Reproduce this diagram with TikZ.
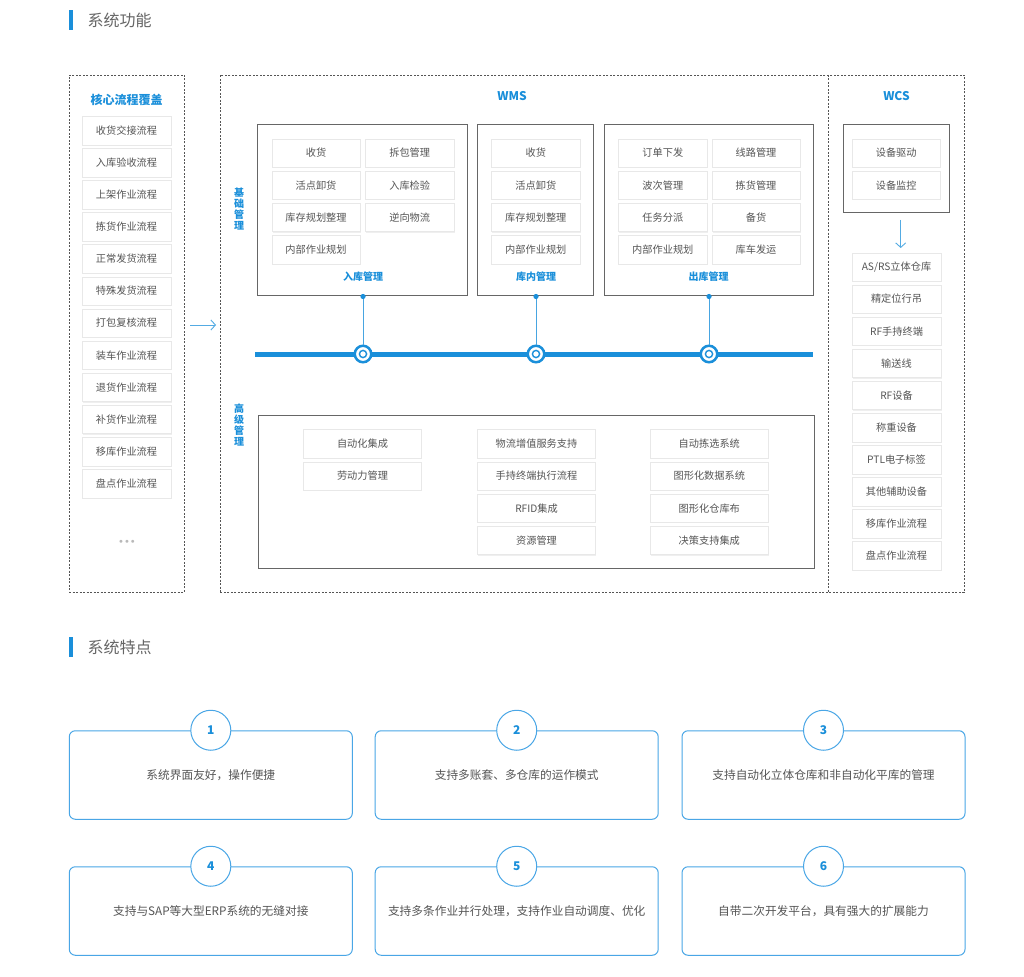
\documentclass[tikz,border=0pt]{standalone}
\usepackage{fontspec}
\setmainfont{Noto Sans CJK SC}
\newfontfamily\dv{DejaVu Sans}
\usetikzlibrary{arrows.meta,shadows}
\definecolor{blu}{HTML}{1A8FDA}
\definecolor{txt}{HTML}{555555}
\definecolor{hdr}{HTML}{666666}
\definecolor{itemb}{HTML}{E8E8E8}
\definecolor{dashc}{HTML}{555555}
\definecolor{grpc}{HTML}{666666}
\definecolor{cardb}{HTML}{49A6E6}
\begin{document}
\begin{tikzpicture}[x=1pt,y=-1pt,
  item/.style={draw=itemb, fill=white, minimum width=88.5, minimum height=28.5, inner sep=0,
    font=\fontsize{10.2}{12}\selectfont, text=txt,
    drop shadow={opacity=0.12, shadow xshift=0.8pt, shadow yshift=-1pt}},
  witem/.style={item, minimum width=118},
  grp/.style={draw=grpc, line width=0.9, fill=white, inner sep=0},
  dbox/.style={draw=dashc, dash pattern=on 2pt off 1.5pt, line width=0.7, inner sep=0},
  blab/.style={text=blu, font=\bfseries\fontsize{10}{12}\selectfont},
  vlab/.style={text=blu, font=\bfseries\fontsize{10}{11.3}\selectfont, align=center, inner sep=0},
  ttl/.style={text=blu, font=\bfseries\fontsize{12}{14}\selectfont},
  hdrtxt/.style={text=hdr, font=\fontsize{16}{18}\selectfont, anchor=west, inner sep=0},
  card/.style={draw=cardb, line width=1, rounded corners=6, minimum width=283, minimum height=88.5,
    font=\fontsize{11.7}{14}\selectfont, text=txt},
  num/.style={circle, draw=cardb, fill=white, line width=1, minimum size=40, inner sep=0,
    font=\bfseries\fontsize{12}{14}\selectfont, text=blu},
  ring/.style={circle, draw=blu, line width=2.5, fill=white, minimum size=16.5, inner sep=0},
  arr/.style={draw=blu!75, line width=0.9, -{Straight Barb[length=4.5pt,width=10pt]}}
]
\useasboundingbox[fill=white] (0,0) rectangle (1024,976);

% ---------- header 1 ----------
\fill[blu] (69,10) rectangle (72.7,30);
\node[hdrtxt] (h1) at (87.5,20) {系统功能};

% ---------- left column ----------
\node[dbox, minimum width=115, minimum height=517] (left) at (126.5,333.5) {};
\node[ttl] (lt) at (126.5,100) {核心流程覆盖};
\foreach \t [count=\i] in {收货交接流程,入库验收流程,上架作业流程,拣货作业流程,正常发货流程,特殊发货流程,打包复核流程,装车作业流程,退货作业流程,补货作业流程,移库作业流程,盘点作业流程}
  \node[item] (L\i) at (126.5,{130.5+32.1*(\i-1)}) {\t};
\node[text=gray!55, font=\dv\fontsize{10}{12}\selectfont, inner sep=0] (dots) at (127,543) {•••};

% arrow to main
\coordinate (ar1) at (190,325);
\coordinate (ar2) at (216,325);
\draw[arr] (ar1) -- (ar2);

% ---------- main dashed box ----------
\node[dbox, minimum width=744, minimum height=517] (main) at (592.3,333.5) {};
\coordinate (dv1) at (828.5,75);
\coordinate (dv2) at (828.5,592);
\draw[draw=dashc, dash pattern=on 2pt off 1.5pt, line width=0.7] (dv1) -- (dv2);
\node[ttl] (wms) at (512,96) {WMS};
\node[ttl] (wcs) at (896.5,96) {WCS};

\node[vlab] (jc) at (239,209) {基\\础\\管\\理};
\node[vlab] (gj) at (239,425) {高\\级\\管\\理};

% group boxes
\node[grp, minimum width=209.3, minimum height=170.7] (inb) at (362.3,209.7) {};
\node[grp, minimum width=116, minimum height=170.7] (kn) at (535.7,209.7) {};
\node[grp, minimum width=208.6, minimum height=170.7] (outb) at (709,209.7) {};
\node[grp, minimum width=556, minimum height=153] (adv) at (536,491.5) {};
\node[grp, minimum width=105.3, minimum height=88.4] (wcsb) at (896.3,168.5) {};

% 入库管理
\node[item] (i1) at (316,153) {收货};
\node[item] (i2) at (409.7,153) {拆包管理};
\node[item] (i3) at (316,185.2) {活点卸货};
\node[item] (i4) at (409.7,185.2) {入库检验};
\node[item] (i5) at (316,217.4) {库存规划整理};
\node[item] (i6) at (409.7,217.4) {逆向物流};
\node[item] (i7) at (316,249.6) {内部作业规划};
\node[blab] (inl) at (363,277) {入库管理};

% 库内管理
\node[item] (k1) at (535.8,153) {收货};
\node[item] (k2) at (535.8,185.2) {活点卸货};
\node[item] (k3) at (535.8,217.4) {库存规划整理};
\node[item] (k4) at (535.8,249.6) {内部作业规划};
\node[blab] (knl) at (536,277) {库内管理};

% 出库管理
\node[item] (o1) at (662.8,153) {订单下发};
\node[item] (o2) at (756,153) {线路管理};
\node[item] (o3) at (662.8,185.2) {波次管理};
\node[item] (o4) at (756,185.2) {拣货管理};
\node[item] (o5) at (662.8,217.4) {任务分派};
\node[item] (o6) at (756,217.4) {备货};
\node[item] (o7) at (662.8,249.6) {内部作业规划};
\node[item] (o8) at (756,249.6) {库车发运};
\node[blab] (outl) at (708.5,277) {出库管理};

% timeline
\coordinate (tl1) at (255,354);
\coordinate (tl2) at (813,354);
\draw[blu, line width=5] (tl1) -- (tl2);
\foreach \n/\x/\b in {c1/363/inb, c2/536/kn, c3/709/outb}{
  \node[ring] (\n) at (\x,354) {};
  \draw[blu, line width=1.4] (\n.center) circle (3.6);
  \draw[blu!80, line width=0.8] (\n.north |- \b.south) -- (\n.north);
  \fill[blu] (\n.north |- \b.south) ++(0,1) circle (2.6);
}

% 高级管理
\node[witem] (a1) at (362.5,443.8) {自动化集成};
\node[witem] (a2) at (362.5,476) {劳动力管理};
\node[witem] (b1) at (536.5,443.8) {物流增值服务支持};
\node[witem] (b2) at (536.5,476) {手持终端执行流程};
\node[witem] (b3) at (536.5,508.2) {RFID集成};
\node[witem] (b4) at (536.5,540.4) {资源管理};
\node[witem] (d1) at (709.3,443.8) {自动拣选系统};
\node[witem] (d2) at (709.3,476) {图形化数据系统};
\node[witem] (d3) at (709.3,508.2) {图形化仓库布};
\node[witem] (d4) at (709.3,540.4) {决策支持集成};

% WCS
\node[item] (w1) at (896.2,153) {设备驱动};
\node[item] (w2) at (896.2,185.2) {设备监控};
\coordinate (wa1) at (900.7,220);
\coordinate (wa2) at (900.7,248);
\draw[arr] (wa1) -- (wa2);
\foreach \t [count=\i] in {AS/RS立体仓库,精定位行吊,RF手持终端,输送线,RF设备,称重设备,PTL电子标签,其他辅助设备,移库作业流程,盘点作业流程}
  \node[item] (W\i) at (896.5,{267+32.1*(\i-1)}) {\t};

% ---------- header 2 ----------
\fill[blu] (69,637.3) rectangle (72.7,657.3);
\node[hdrtxt] (h2) at (87.5,647) {系统特点};

% ---------- feature cards ----------
\node[card] (f1) at (210.8,775) {系统界面友好，操作便捷};
\node[card] (f2) at (516.7,775) {支持多账套、多仓库的运作模式};
\node[card] (f3) at (823.5,775) {支持自动化立体仓库和非自动化平库的管理};
\node[card] (f4) at (210.8,911) {支持与SAP等大型ERP系统的无缝对接};
\node[card] (f5) at (516.7,911) {支持多条作业并行处理，支持作业自动调度、优化};
\node[card] (f6) at (823.5,911) {自带二次开发平台，具有强大的扩展能力};
\foreach \i in {1,...,6}
  \node[num] (n\i) at (f\i.north) {\i};
\end{tikzpicture}
\end{document}
